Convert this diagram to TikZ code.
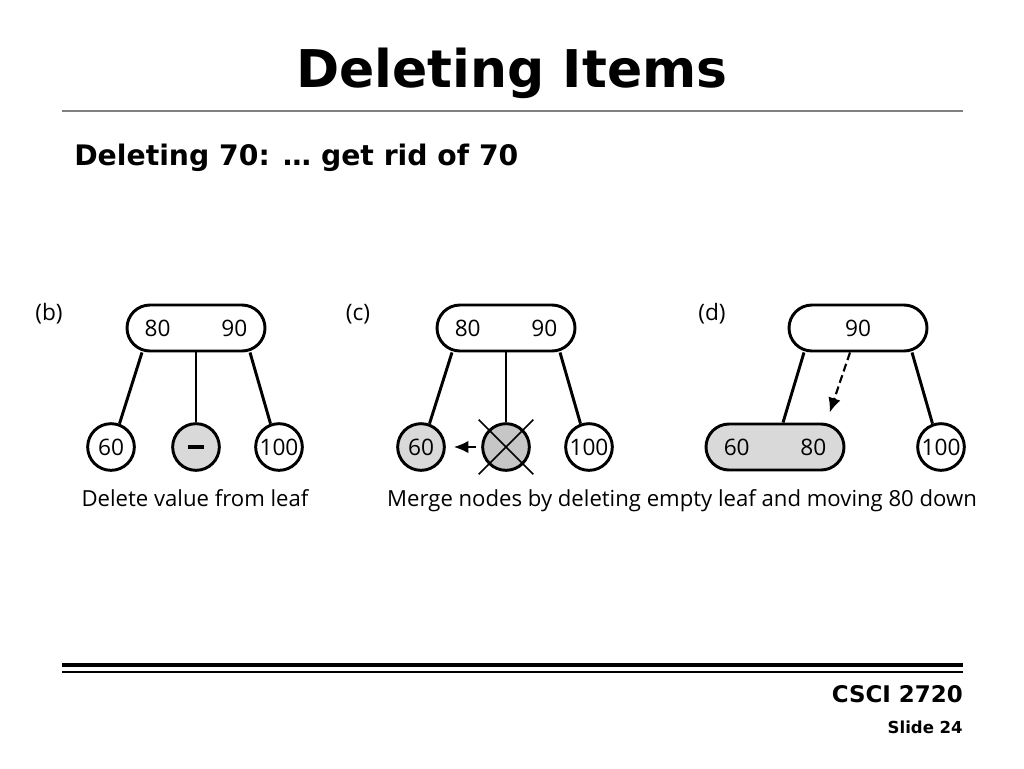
\documentclass[tikz,border=0pt]{standalone}
\usepackage{fontspec}
\setmainfont{Open Sans}
\newfontfamily\headfont{DejaVu Sans}
\usetikzlibrary{arrows.meta,positioning,shapes.misc}

\begin{document}
\begin{tikzpicture}[
    x=0.75pt, y=-0.75pt,
    keys/.style={rounded rectangle, draw, line width=2.2pt, minimum width=103.5pt, minimum height=34.5pt, inner sep=0pt, fill=white, font=\fontsize{17}{20}\selectfont},
    leaf/.style={circle, draw, line width=2.2pt, minimum size=35pt, inner sep=0pt, fill=white, font=\fontsize{17}{20}\selectfont},
    link/.style={line width=2.2pt},
    tag/.style={font=\fontsize{17}{20}\selectfont},
    caption/.style={anchor=base, inner sep=0pt, font=\fontsize{16.6}{20}\selectfont},
    arrow/.style={-{Latex[length=11pt,width=9.5pt]}, line width=1.6pt}
]
\useasboundingbox (0,0) rectangle (1024,768);

% Heading
\node[anchor=base, font=\headfont\bfseries\fontsize{39}{46}\selectfont] (title) at (512,87) {Deleting Items};
\draw[gray, line width=0.8pt] (62,111) -- (963,111);
\node[anchor=base west, inner sep=0pt, font=\headfont\bfseries\fontsize{21.2}{26}\selectfont] (subtitle) at (74,165) {Deleting 70: … get rid of 70};

% (b)
\node[tag] (b_tag) at (49,314) {(b)};
\node[keys] (b_root) at (196,328) {80\hspace{38pt}90};
\node[leaf] (b_l) at (111,447) {60};
\node[leaf, fill=gray!30] (b_m) at (196,447) {\rule{11.5pt}{2.6pt}};
\node[leaf] (b_r) at (279,447) {100};
\draw[link] ([xshift=-6pt]b_root.south west) -- (b_l.70);
\draw[link] (b_root.south) -- (b_m.north);
\draw[link] ([xshift=6pt]b_root.south east) -- (b_r.110);
\node[caption] (b_cap) at (195,506) {Delete value from leaf};

% (c)
\node[tag] (c_tag) at (358,314) {(c)};
\node[keys] (c_root) at (506,328) {80\hspace{38pt}90};
\node[leaf, fill=gray!30] (c_l) at (421,447) {60};
\node[leaf, fill=gray!45] (c_m) at (506,447) {};
\node[leaf] (c_r) at (589,447) {100};
\draw[link] ([xshift=-6pt]c_root.south west) -- (c_l.70);
\draw[link] (c_root.south) -- (c_m.north);
\draw[link] ([xshift=6pt]c_root.south east) -- (c_r.110);
\draw[line width=1.1pt] ([shift={(-20.5pt,20.5pt)}]c_m.center) -- ([shift={(20.5pt,-20.5pt)}]c_m.center);
\draw[line width=1.1pt] ([shift={(-20.5pt,-20.5pt)}]c_m.center) -- ([shift={(20.5pt,20.5pt)}]c_m.center);
\draw[arrow] ([xshift=-4pt]c_m.west) -- ([xshift=6pt]c_l.east);
\node[caption] (c_cap) at (682,506) {Merge nodes by deleting empty leaf and moving 80 down};

% (d)
\node[tag] (d_tag) at (712,314) {(d)};
\node[keys] (d_root) at (858,328) {90};
\node[keys, fill=gray!30] (d_l) at (775,447) {60\hspace{38pt}80};
\node[leaf] (d_r) at (941,447) {100};
\draw[link] ([xshift=-6pt]d_root.south west) -- ([xshift=6pt]d_l.north);
\draw[link] ([xshift=6pt]d_root.south east) -- (d_r.110);
\draw[arrow, dash pattern=on 6pt off 3pt] ([xshift=-6pt]d_root.south) -- ([xshift=41pt,yshift=7.5pt]d_l.north);

% Footer
\draw[line width=3pt] (62,665) -- (963,665);
\draw[line width=1pt] (62,672) -- (963,672);
\node[anchor=base east, inner sep=0pt, font=\headfont\bfseries\fontsize{17.2}{20}\selectfont] (course) at (963,702) {CSCI 2720};
\node[anchor=base east, inner sep=0pt, font=\headfont\bfseries\fontsize{12.4}{15}\selectfont] (slide) at (963,733) {Slide 24};
\end{tikzpicture}
\end{document}
